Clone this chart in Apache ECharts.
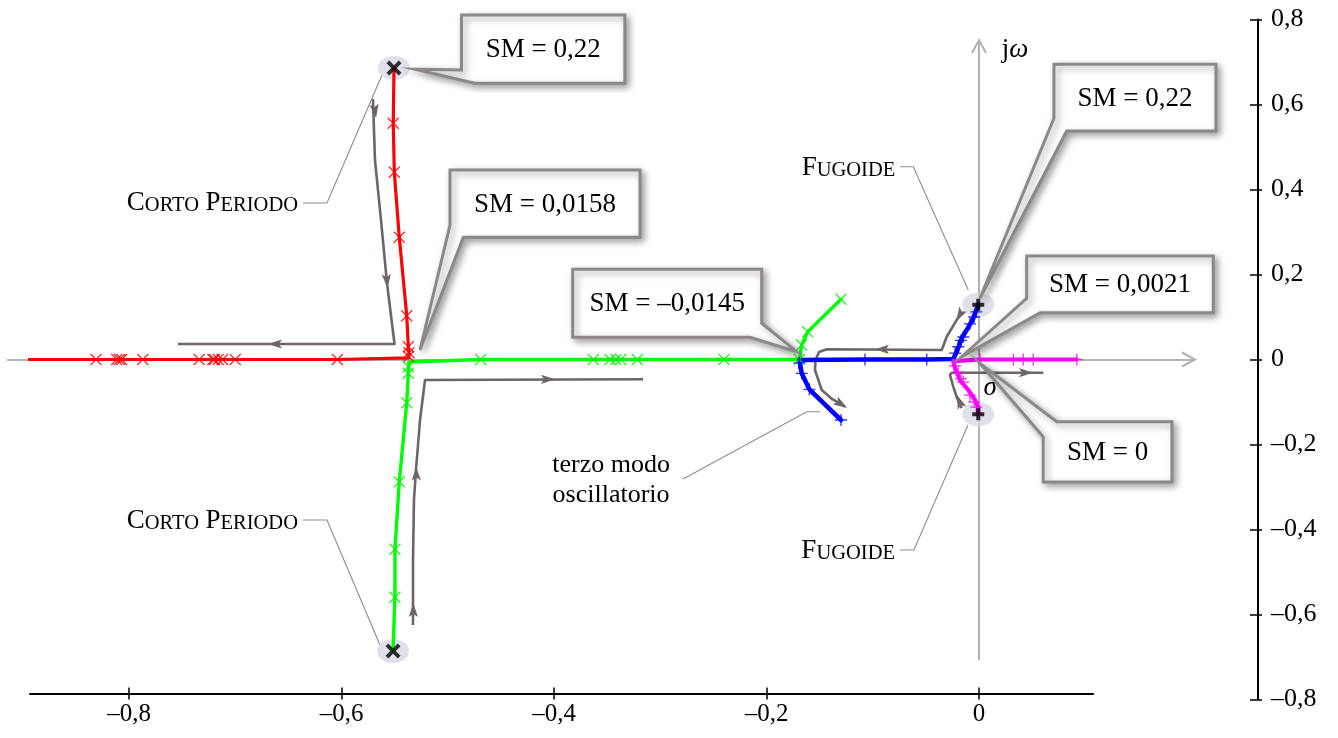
<!DOCTYPE html>
<html><head><meta charset="utf-8">
<script src="https://cdn.jsdelivr.net/npm/echarts@6/dist/echarts.min.js"></script>
<style>html,body{margin:0;padding:0;background:#fff}#c{width:1338px;height:738px}</style>
</head><body><div id="c"></div>
<script>
// ---------- data ----------
const xTickValues = [-0.8, -0.6, -0.4, -0.2, 0];
const yTickValues = [-0.8, -0.6, -0.4, -0.2, 0, 0.2, 0.4, 0.6, 0.8];

const redPath = [[-0.5506,0.686],[-0.5513,0.556],[-0.5503,0.4405],[-0.5456,0.2875],[-0.5386,0.1031],[-0.5371,0.0301],[-0.5365,0.016],[-0.5368,0.004],[-0.604,0.0],[-0.7,0.0],[-0.9,0.0]];
const redMarks = [[-0.5513,0.556],[-0.5503,0.4405],[-0.5456,0.2875],[-0.5386,0.1031],[-0.5371,0.0301],[-0.5365,0.016],[-0.5368,0.007],[-0.604,0],[-0.700,0],[-0.712,0],[-0.716,0],[-0.7195,0],[-0.721,0],[-0.734,0],[-0.787,0],[-0.807,0],[-0.809,0],[-0.8116,0],[-0.831,0]];

const greenPath = [[-0.5515,-0.686],[-0.5497,-0.5595],[-0.5497,-0.4466],[-0.5456,-0.2875],[-0.5386,-0.1016],[-0.5371,-0.0325],[-0.5365,-0.006],[-0.469,0.0],[-0.169,0.0],[-0.1669,0.034],[-0.1612,0.0654],[-0.1299,0.1416]];
const greenMarks = [[-0.5497,-0.5595],[-0.5497,-0.4466],[-0.5456,-0.2875],[-0.5386,-0.1016],[-0.5371,-0.0325],[-0.5371,-0.017],[-0.469,0],[-0.363,0],[-0.3473,0],[-0.3416,0],[-0.3372,0],[-0.3216,0],[-0.240,0],[-0.169,0],[-0.1669,0.034],[-0.1612,0.0654],[-0.1299,0.1416]];

const bluePath = [[-0.1299,-0.1424],[-0.1597,-0.0701],[-0.1669,-0.0325],[-0.1691,-0.001],[-0.1073,0],[-0.0492,0],[-0.0242,0.0012],[-0.021,0.018],[-0.0163,0.05],[-0.0116,0.0694],[-0.0054,0.097],[-0.0007,0.129]];
const blueMarks = [[-0.1299,-0.1424],[-0.1597,-0.0701],[-0.1669,-0.0325],[-0.1691,-0.008],[-0.1073,0],[-0.0492,0],[-0.0225,0.015],[-0.0195,0.03],[-0.017,0.045],[-0.0148,0.053],[-0.0085,0.084],[-0.0045,0.1],[-0.0025,0.112]];

const magentaPath = [[-0.0007,-0.129],[-0.0007,-0.111],[-0.0038,-0.0953],[-0.0101,-0.0718],[-0.0179,-0.0482],[-0.0226,-0.0207],[-0.0242,-0.004],[0.0009,0],[0.092,0]];
const magentaMarks = [[-0.0225,-0.015],[-0.0195,-0.03],[-0.017,-0.045],[-0.0148,-0.053],[-0.0085,-0.084],[-0.0045,-0.1],[-0.0025,-0.112],[0.0009,0],[0.0323,0],[0.0417,0],[0.0511,0],[0.092,0]];

const shortPeriodPoles = [[-0.5506,0.686],[-0.5515,-0.686]];
const phugoidPoles = [[-0.0007,0.129],[-0.0007,-0.129]];

// direction-of-change arrows (value coordinates)
const flowPaths = [
  [[-0.5704,0.6129],[-0.5685,0.4694],[-0.5628,0.3282],[-0.5572,0.18],[-0.5501,0.0365],[-0.7539,0.0365]],
  [[-0.5327,-0.6247],[-0.5327,-0.4718],[-0.5318,-0.3306],[-0.5299,-0.26],[-0.5261,-0.1424],[-0.5214,-0.0482],[-0.3162,-0.0466]],
  [[-0.0163,0.1125],[-0.0304,0.0536],[-0.0351,0.0224],[-0.1433,0.024],[-0.1506,0.0176],[-0.1539,-0.0012],[-0.1544,-0.0247],[-0.148,-0.0718],[-0.1384,-0.0929],[-0.1261,-0.1111]],
  [[-0.0163,-0.1148],[-0.0207,-0.0906],[-0.0242,-0.064],[-0.0273,-0.0365],[-0.0257,-0.0311],[0.0605,-0.0311]]
];
// arrow heads: [fromX, fromY, tipX, tipY, kind]  kind 0 = solid head, 1 = open chevron
const arrowHeads = [
  [-0.5699,0.6106,-0.5675,0.5682,0],
  [-0.5581,0.2106,-0.5567,0.1682,0],
  [-0.6485,0.0365,-0.6692,0.0365,0],
  [-0.5324,-0.6129,-0.5324,-0.5729,0],
  [-0.5294,-0.2953,-0.5299,-0.2522,0],
  [-0.4179,-0.0466,-0.3991,-0.0466,0],
  [-0.0163,0.1125,-0.0214,0.0906,0],
  [-0.0791,0.024,-0.0979,0.024,0],
  [-0.1402,-0.0882,-0.1242,-0.1141,0],
  [-0.016,-0.1141,-0.0207,-0.0835,0],
  [0.0339,-0.0311,0.0508,-0.0311,0],
  [0.10,0,0.2033,0,1],
  [0,0.6,0,0.7518,1]
];
const innerAxes = [
  [[-0.9148,0],[0.2033,0]],
  [[0,-0.707],[0,0.7518]]
];

const calloutAnchors = [[-0.531,0.683],[-0.5261,0.0224],[-0.1716,0.0184],[0.0009,0.144],[-0.0163,0.0066],[0.0009,-0.009]];
const calloutTexts = ['SM = 0,22','SM = 0,0158','SM = \u20130,0145','SM = 0,22','SM = 0,0021','SM = 0'];

const noteAnchors = [[-0.5619,0.6694],[-0.5638,-0.6718],[-0.0101,0.1635],[-0.0104,-0.1541],[-0.1496,-0.1228],[0.0339,0.7282],[0.0104,-0.0553]];
const noteTexts = ['{b|C}{s|ORTO} {b|P}{s|ERIODO}','{b|C}{s|ORTO} {b|P}{s|ERIODO}','{b|F}{s|UGOIDE}','{b|F}{s|UGOIDE}','terzo modo\noscillatorio','{n|j}{i|\u03c9}','{i|\u03c3}'];

// ---------- layout / styles ----------
const calloutLayout = [
  {poly:[[46.7,-54.3],[210,-54.3],[210,14],[60,14],[0,0],[46.7,0.7]], box:[46.7,-54.3,210,14]},
  {poly:[[30,-180],[220,-180],[220,-112.7],[43.3,-112.7],[0,0],[30,-125]], box:[30,-180,220,-112.7]},
  {poly:[[-224,-82.4],[-35,-82.4],[-35,-28.4],[0,0],[-46.7,-14.4],[-224,-14.4]], box:[-224,-82.4,-35,-14.4]},
  {poly:[[74,-234],[236,-234],[236,-167.3],[86.7,-167.3],[0,0],[74,-180]], box:[74,-234,236,-167.3]},
  {poly:[[65,-100.7],[251.6,-100.7],[251.6,-44],[78.3,-44],[0,0],[65,-58.4]], box:[65,-100.7,251.6,-44]},
  {poly:[[76.7,58.4],[192,58.4],[192,118.7],[63.3,118.7],[63.3,73.4],[0,0]], box:[63.3,58.4,192,118.7]}
];
const noteLayout = [
  {lead:[[-79,128],[-55,128],[0,0]], tx:-84, ty:126, align:'right'},
  {lead:[[-77,-125],[-53,-125],[0,0]], tx:-82, ty:-126, align:'right'},
  {lead:[[-68,-123.3],[-55,-123.3],[0,0]], tx:-73, ty:-124, align:'right'},
  {lead:[[-68,125],[-54,125],[0,0]], tx:-73, ty:124, align:'right'},
  {lead:[[-137,67.3],[-13.3,0],[0,0]], tx:-209, ty:68, align:'center'},
  {lead:null, tx:0, ty:0, align:'center'},
  {lead:null, tx:0, ty:5, align:'center'}
];

const FONT = '"Liberation Serif", "Times New Roman", serif';
const FLOW = '#6d6567';
const AXISGRAY = '#b6b1b1';

const thinX = 'path://M0,1 L1,0 L6,5 L11,0 L12,1 L7,6 L12,11 L11,12 L6,7 L1,12 L0,11 L5,6 Z';
const thinPlus = 'path://M5.35,0 H6.65 V5.35 H12 V6.65 H6.65 V12 H5.35 V6.65 H0 V5.35 H5.35 Z';
const boldX = 'path://M0,2.2 L2.2,0 L6,3.8 L9.8,0 L12,2.2 L8.2,6 L12,9.8 L9.8,12 L6,8.2 L2.2,12 L0,9.8 L3.8,6 Z';
const boldPlus = 'path://M4,0 H8 V4 H12 V8 H8 V12 H4 V8 H0 V4 H4 Z';

function fmt(v){
  if (Math.abs(v) < 1e-9) return '0';
  const s = Math.abs(v).toFixed(1).replace('.', ',');
  return (v < 0 ? '\u2013' : '') + s;
}

const XMIN = -0.89318, XMAX = 0.10729;

function lineSeries(data, color, width){
  return {type:'line', data:data, showSymbol:false, symbol:'none', clip:false, z:3,
    lineStyle:{color:color, width:width, cap:'round', join:'round'}, silent:true};
}
function markSeries(data, color, sym, size){
  return {type:'scatter', data:data, symbol:sym, symbolSize:size, clip:false, z:5,
    itemStyle:{color:color}, silent:true};
}

const chart = echarts.init(document.getElementById('c'), null, {renderer:'canvas'});
chart.setOption({
  animation:false,
  backgroundColor:'#ffffff',
  textStyle:{fontFamily:FONT},
  grid:{left:30, right:245, top:19.5, bottom:38.5, containLabel:false},
  xAxis:[
    {type:'value', min:XMIN, max:XMAX, position:'bottom', offset:-6,
     axisLine:{show:true, onZero:false, lineStyle:{color:'#000', width:2}},
     axisTick:{show:true, customValues:xTickValues, length:6, inside:false, lineStyle:{color:'#000', width:1.5}},
     axisLabel:{show:true, customValues:xTickValues, formatter:fmt, color:'#000', fontSize:25, fontFamily:FONT, margin:8},
     splitLine:{show:false}},
    {type:'value', min:XMIN, max:XMAX, position:'bottom', offset:-6,
     axisLine:{show:false, onZero:false},
     axisTick:{show:true, customValues:xTickValues, length:6, inside:true, lineStyle:{color:'#000', width:1.5}},
     axisLabel:{show:false}, splitLine:{show:false}}
  ],
  yAxis:[
    {type:'value', min:-0.8, max:0.8, position:'right', offset:165,
     axisLine:{show:true, onZero:false, lineStyle:{color:'#000', width:2}},
     axisTick:{show:true, customValues:yTickValues, length:4, inside:false, lineStyle:{color:'#000', width:1.5}},
     axisLabel:{show:true, customValues:yTickValues, formatter:fmt, color:'#000', fontSize:26, fontFamily:FONT, margin:13},
     splitLine:{show:false}},
    {type:'value', min:-0.8, max:0.8, position:'right', offset:165,
     axisLine:{show:false, onZero:false},
     axisTick:{show:true, customValues:yTickValues, length:8, inside:true, lineStyle:{color:'#000', width:1.5}},
     axisLabel:{show:false}, splitLine:{show:false}}
  ],
  series:[
    // inner sigma / j-omega axes
    {type:'lines', coordinateSystem:'cartesian2d', polyline:false, clip:false, z:1, silent:true,
     symbol:['none','none'], lineStyle:{color:AXISGRAY, width:2, opacity:1},
     data: innerAxes.map(c => ({coords:c}))},
    // direction arrows paths
    {type:'lines', coordinateSystem:'cartesian2d', polyline:true, clip:false, z:2, silent:true,
     symbol:['none','none'], lineStyle:{color:FLOW, width:2.6, opacity:1, join:'round'},
     data: flowPaths.map(c => ({coords:c}))},
    // arrow heads
    {type:'custom', coordinateSystem:'cartesian2d', clip:false, z:2, silent:true,
     encode:{x:[0,2], y:[1,3]}, data: arrowHeads,
     renderItem: function(params, api){
       const a = api.coord([api.value(0), api.value(1)]);
       const b = api.coord([api.value(2), api.value(3)]);
       const kind = api.value(4);
       let dx = b[0]-a[0], dy = b[1]-a[1];
       const len = Math.hypot(dx, dy) || 1; dx /= len; dy /= len;
       const nx = -dy, ny = dx;
       if (kind === 0){
         const L = 14, W = 4.6;
         return {type:'polygon', shape:{points:[
           [b[0], b[1]],
           [b[0]-L*dx+W*nx, b[1]-L*dy+W*ny],
           [b[0]-0.78*L*dx, b[1]-0.78*L*dy],
           [b[0]-L*dx-W*nx, b[1]-L*dy-W*ny]]},
           style:{fill:FLOW}};
       }
       const L = 13, W = 7;
       return {type:'polyline', shape:{points:[
           [b[0]-L*dx+W*nx, b[1]-L*dy+W*ny],
           [b[0], b[1]],
           [b[0]-L*dx-W*nx, b[1]-L*dy-W*ny]]},
           style:{stroke:AXISGRAY, lineWidth:2, fill:null}};
     }},
    // leader lines and labels
    {type:'custom', coordinateSystem:'cartesian2d', clip:false, z:2, silent:true,
     encode:{x:0, y:1}, data: noteAnchors,
     renderItem: function(params, api){
       const i = params.dataIndex;
       const p = api.coord([api.value(0), api.value(1)]);
       const L = noteLayout[i];
       const children = [];
       if (L.lead){
         children.push({type:'polyline', shape:{points:L.lead.map(q => [p[0]+q[0], p[1]+q[1]])},
           style:{stroke:'#8f8a8a', lineWidth:1.1, fill:null}});
       }
       children.push({type:'text', x:p[0]+L.tx, y:p[1]+L.ty,
         style:{text:noteTexts[i], align:L.align, verticalAlign:'middle', fill:'#000',
           font:'26px ' + FONT, lineHeight:30,
           rich:{
             b:{fontSize:27, fontFamily:FONT, fill:'#000', verticalAlign:'bottom', lineHeight:30},
             s:{fontSize:20.5, fontFamily:FONT, fill:'#000', verticalAlign:'bottom', lineHeight:28},
             n:{fontSize:27, fontFamily:FONT, fill:'#000'},
             i:{fontSize:27, fontFamily:FONT, fontStyle:'italic', fill:'#000'}
           }}});
       return {type:'group', children:children};
     }},
    // root loci
    lineSeries(redPath, '#ff0000', 3.2),
    lineSeries(greenPath, '#00ff00', 3.4),
    lineSeries(bluePath, '#0000ff', 4.6),
    lineSeries(magentaPath, '#ff00ff', 4.2),
    // halos around poles
    {type:'scatter', data: shortPeriodPoles.concat(phugoidPoles), symbol:'circle', symbolSize:[32,24],
     clip:false, z:2, itemStyle:{color:'#d7dae5'}, silent:true},
    // gain markers
    markSeries(redMarks, '#ff0000', thinX, 12),
    markSeries(greenMarks, '#00ee00', thinX, 12),
    markSeries(blueMarks, '#0000ff', thinPlus, 12),
    markSeries(magentaMarks, '#ff00ff', thinPlus, 12),
    // open-loop poles
    {type:'scatter', data: shortPeriodPoles, symbol:boldX, symbolSize:15, clip:false, z:6,
     itemStyle:{color:'#000'}, silent:true},
    {type:'scatter', data: phugoidPoles, symbol:boldPlus, symbolSize:12, clip:false, z:6,
     itemStyle:{color:'#000'}, silent:true},
    // callout boxes
    {type:'custom', coordinateSystem:'cartesian2d', clip:false, z:7, silent:true,
     encode:{x:0, y:1}, data: calloutAnchors,
     renderItem: function(params, api){
       const i = params.dataIndex;
       const p = api.coord([api.value(0), api.value(1)]);
       const L = calloutLayout[i];
       const cx = p[0] + (L.box[0]+L.box[2])/2, cy = p[1] + (L.box[1]+L.box[3])/2;
       return {type:'group', children:[
         {type:'polygon', shape:{points:L.poly.map(q => [p[0]+q[0], p[1]+q[1]])},
          style:{fill:'#ffffff', stroke:'#8d8888', lineWidth:3, lineJoin:'miter',
                 shadowBlur:7, shadowOffsetX:3, shadowOffsetY:3, shadowColor:'rgba(0,0,0,0.35)'}},
         {type:'text', x:cx, y:cy+1, style:{text:calloutTexts[i], align:'center', verticalAlign:'middle',
          fill:'#000', font:'27px ' + FONT}}
       ]};
     }}
  ]
});
</script></body></html>
